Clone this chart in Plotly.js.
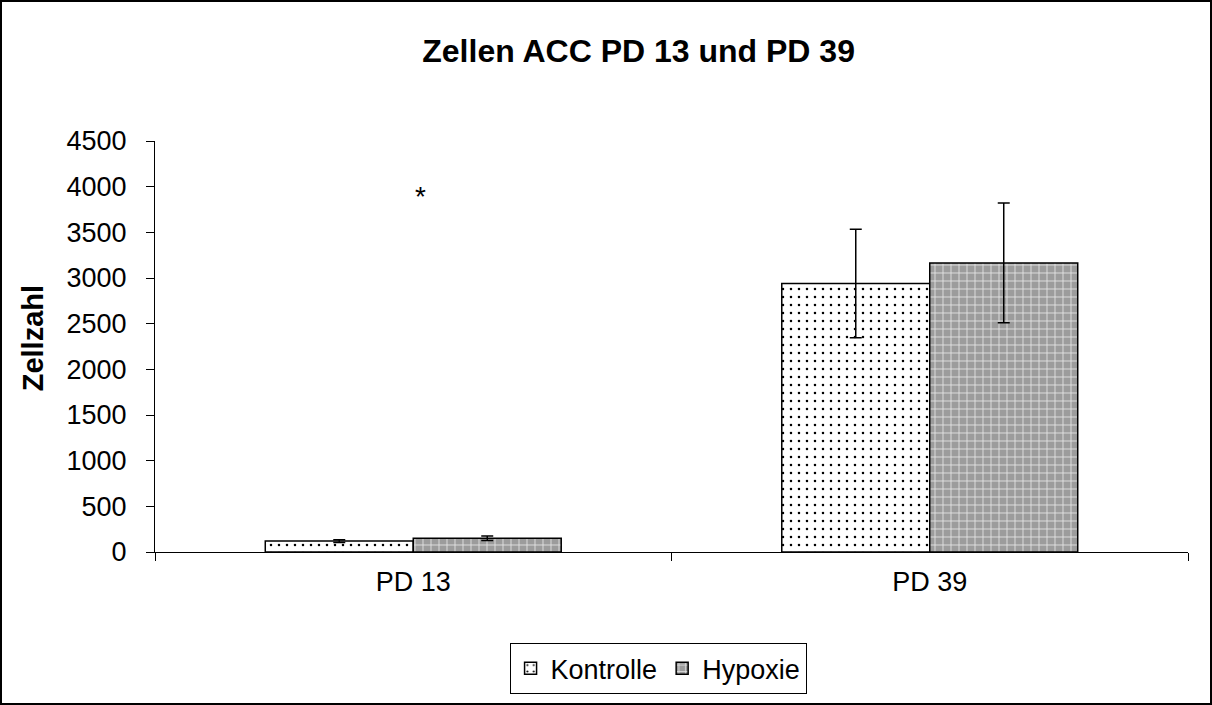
<!DOCTYPE html>
<html>
<head>
<meta charset="utf-8">
<script src="https://cdn.plot.ly/plotly-3.0.1.min.js"></script>
<style>
html,body{margin:0;padding:0;background:#fff;}
#chart{width:1212px;height:705px;box-sizing:border-box;border:2px solid #000;}
</style>
</head>
<body>
<div id="chart"></div>
<script>
const categories = ["PD 13", "PD 39"];
const kontrolle = [120, 2940];
const kontrolleErr = [15, 595];
const hypoxie = [150, 3165];
const hypoxieErr = [25, 655];
const yTicks = [0, 500, 1000, 1500, 2000, 2500, 3000, 3500, 4000, 4500];
const yAxisTitle = "Zellzahl";
const starCategory = "PD 13";
const starValue = 3890;

const font = "Arial, 'Liberation Sans', sans-serif";

const traces = [
  {
    type: "bar", name: "Kontrolle", x: categories, y: kontrolle,
    marker: {
      color: "#ffffff",
      line: {color: "#000", width: 1.5},
      pattern: {shape: ".", fgcolor: "#000", bgcolor: "#ffffff", size: 8, solidity: 0.08}
    },
    error_y: {type: "data", array: kontrolleErr, visible: true, color: "#000", thickness: 1.5, width: 6}
  },
  {
    type: "bar", name: "Hypoxie", x: categories, y: hypoxie,
    marker: {
      color: "#a0a0a0",
      line: {color: "#000", width: 1.5},
      pattern: {shape: "+", fgcolor: "#e6e6e6", bgcolor: "#9c9c9c", size: 8, solidity: 0.2}
    },
    error_y: {type: "data", array: hypoxieErr, visible: true, color: "#000", thickness: 1.5, width: 6}
  }
];

const layout = {
  width: 1208, height: 701,
  margin: {l: 153, r: 22, t: 139, b: 151, autoexpand: false},
  paper_bgcolor: "#fff", plot_bgcolor: "#fff",
  font: {family: font, color: "#000", size: 27},
  title: {text: "<b>Zellen ACC PD 13 und PD 39</b>", font: {family: font, size: 32, color: "#000"},
          x: 0.527, xref: "container", xanchor: "center", y: 0.931, yref: "container", yanchor: "middle"},
  barmode: "group", bargap: 0.427, bargroupgap: 0,
  xaxis: {
    type: "category", tickson: "boundaries", ticks: "outside", ticklen: 8, tickcolor: "#000",
    showline: true, linecolor: "#000", linewidth: 1, showgrid: false, zeroline: false, automargin: false,
    tickfont: {family: font, size: 27, color: "#000"}, ticklabelstandoff: 6
  },
  yaxis: {
    range: [0, 4500], tickvals: yTicks, ticktext: yTicks.map(String),
    ticks: "outside", ticklen: 8, tickcolor: "#000", automargin: false,
    showline: true, linecolor: "#000", linewidth: 1, showgrid: false, zeroline: false,
    tickfont: {family: font, size: 27, color: "#000"}, ticklabelstandoff: 14
  },
  legend: {
    orientation: "h", x: 0.487, xanchor: "center", y: -0.222, yanchor: "top",
    bordercolor: "#000", borderwidth: 1, bgcolor: "#fff",
    font: {family: font, size: 27, color: "#000"},
    itemwidth: 30, traceorder: "normal"
  },
  annotations: [
    {x: starCategory, y: starValue, xref: "x", yref: "y", text: "*", showarrow: false, xshift: 7,
     font: {family: font, size: 28, color: "#000"}},
    {x: -0.1181, y: 0.52, xref: "paper", yref: "paper", text: "<b>" + yAxisTitle + "</b>", textangle: -90,
     showarrow: false, xanchor: "center", yanchor: "middle",
     font: {family: font, size: 29, color: "#000"}}
  ],
  showlegend: true
};

Plotly.newPlot("chart", traces, layout, {displayModeBar: false, staticPlot: true});
</script>
</body>
</html>
